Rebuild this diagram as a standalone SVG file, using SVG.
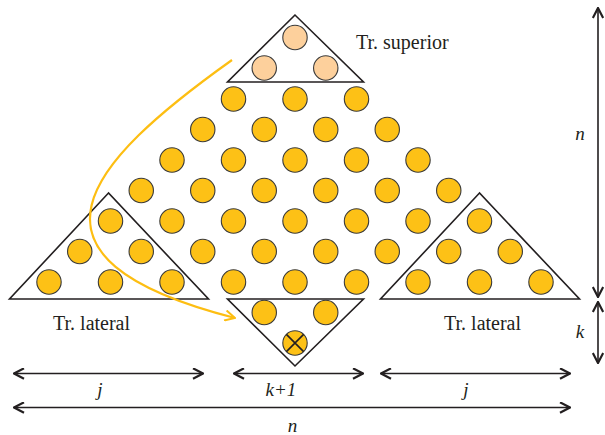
<svg xmlns="http://www.w3.org/2000/svg" width="605" height="435" viewBox="0 0 605 435">
<style>
.c{fill:#FDC116;stroke:#3a3a3a;stroke-width:1.1}
.p{fill:#FDD09C;stroke:#3a3a3a;stroke-width:1.1}
.tri{fill:none;stroke:#231f20;stroke-width:1.6;stroke-linejoin:miter}
.dim{fill:none;stroke:#231f20;stroke-width:1.6}
.curve{fill:none;stroke:#FDBE12;stroke-width:2.2}
.lbl{font-family:"Liberation Serif","Times New Roman",serif;font-size:20px;fill:#231f20}
.it{font-family:"Liberation Serif","Times New Roman",serif;font-style:italic;font-size:19px;fill:#231f20}
</style>
<defs>
<marker id="ah" viewBox="0 0 12 12" markerWidth="12" markerHeight="12" refX="11" refY="6" orient="auto-start-reverse" markerUnits="userSpaceOnUse">
<path d="M1,0.8 L11,6 L1,11.2" fill="none" stroke="#231f20" stroke-width="2.2"/>
</marker>
<marker id="ay" viewBox="0 0 12 12" markerWidth="12" markerHeight="12" refX="11" refY="6" orient="auto" markerUnits="userSpaceOnUse">
<path d="M1,0.8 L11,6 L1,11.2" fill="none" stroke="#FDBE12" stroke-width="2"/>
</marker>
</defs>

<g id="main-grid">
<circle class="c" cx="233.5" cy="99" r="12.2"/>
<circle class="c" cx="295" cy="99" r="12.2"/>
<circle class="c" cx="356.5" cy="99" r="12.2"/>
<circle class="c" cx="202.75" cy="129.5" r="12.2"/>
<circle class="c" cx="264.25" cy="129.5" r="12.2"/>
<circle class="c" cx="325.75" cy="129.5" r="12.2"/>
<circle class="c" cx="387.25" cy="129.5" r="12.2"/>
<circle class="c" cx="172" cy="160" r="12.2"/>
<circle class="c" cx="233.5" cy="160" r="12.2"/>
<circle class="c" cx="295" cy="160" r="12.2"/>
<circle class="c" cx="356.5" cy="160" r="12.2"/>
<circle class="c" cx="418" cy="160" r="12.2"/>
<circle class="c" cx="141.25" cy="190.5" r="12.2"/>
<circle class="c" cx="202.75" cy="190.5" r="12.2"/>
<circle class="c" cx="264.25" cy="190.5" r="12.2"/>
<circle class="c" cx="325.75" cy="190.5" r="12.2"/>
<circle class="c" cx="387.25" cy="190.5" r="12.2"/>
<circle class="c" cx="448.75" cy="190.5" r="12.2"/>
<circle class="c" cx="172" cy="221" r="12.2"/>
<circle class="c" cx="233.5" cy="221" r="12.2"/>
<circle class="c" cx="295" cy="221" r="12.2"/>
<circle class="c" cx="356.5" cy="221" r="12.2"/>
<circle class="c" cx="418" cy="221" r="12.2"/>
<circle class="c" cx="202.75" cy="251.5" r="12.2"/>
<circle class="c" cx="264.25" cy="251.5" r="12.2"/>
<circle class="c" cx="325.75" cy="251.5" r="12.2"/>
<circle class="c" cx="387.25" cy="251.5" r="12.2"/>
<circle class="c" cx="233.5" cy="282" r="12.2"/>
<circle class="c" cx="295" cy="282" r="12.2"/>
<circle class="c" cx="356.5" cy="282" r="12.2"/>
</g>

<g id="tr-superior">
<polygon class="tri" points="295,15 227.5,82 363.5,82"/>
<circle class="p" cx="295" cy="37.5" r="12.2"/>
<circle class="p" cx="264.25" cy="68" r="12.2"/>
<circle class="p" cx="325.75" cy="68" r="12.2"/>
<text class="lbl" x="356" y="49">Tr. superior</text>
</g>

<g id="tr-lateral-left">
<polygon class="tri" points="108.5,193 9.5,299 208.5,299"/>
<circle class="c" cx="110.5" cy="221" r="12.2"/>
<circle class="c" cx="79.75" cy="251.5" r="12.2"/>
<circle class="c" cx="141.25" cy="251.5" r="12.2"/>
<circle class="c" cx="49" cy="282" r="12.2"/>
<circle class="c" cx="110.5" cy="282" r="12.2"/>
<circle class="c" cx="172" cy="282" r="12.2"/>
<text class="lbl" x="53" y="330">Tr. lateral</text>
</g>

<g id="tr-lateral-right">
<polygon class="tri" points="479.5,193 380.5,299 579.5,299"/>
<circle class="c" cx="479.5" cy="221" r="12.2"/>
<circle class="c" cx="448.75" cy="251.5" r="12.2"/>
<circle class="c" cx="510.25" cy="251.5" r="12.2"/>
<circle class="c" cx="418" cy="282" r="12.2"/>
<circle class="c" cx="479.5" cy="282" r="12.2"/>
<circle class="c" cx="541" cy="282" r="12.2"/>
<text class="lbl" x="444" y="330">Tr. lateral</text>
</g>

<g id="tr-inferior">
<polygon class="tri" points="227.5,299 363.5,299 295,366"/>
<circle class="c" cx="264.25" cy="312.5" r="12.2"/>
<circle class="c" cx="325.75" cy="312.5" r="12.2"/>
<circle class="c" cx="295" cy="343" r="12.2"/>
<path d="M286.4,334.4 L303.6,351.6 M303.6,334.4 L286.4,351.6" stroke="#231f20" stroke-width="1.6" fill="none"/>
</g>

<g id="connectors">
<path class="curve" d="M232,60 C87.5,163 1.2,258 235,318" marker-end="url(#ay)"/>
<line class="dim" x1="14" y1="373.5" x2="203" y2="373.5" marker-start="url(#ah)" marker-end="url(#ah)"/>
<line class="dim" x1="234" y1="373.5" x2="363" y2="373.5" marker-start="url(#ah)" marker-end="url(#ah)"/>
<line class="dim" x1="381" y1="373.5" x2="570" y2="373.5" marker-start="url(#ah)" marker-end="url(#ah)"/>
<line class="dim" x1="14" y1="407.5" x2="570" y2="407.5" marker-start="url(#ah)" marker-end="url(#ah)"/>
<line class="dim" x1="598" y1="8" x2="598" y2="297" marker-start="url(#ah)" marker-end="url(#ah)"/>
<line class="dim" x1="598" y1="302" x2="598" y2="363" marker-start="url(#ah)" marker-end="url(#ah)"/>
</g>

<g id="labels">
<text class="it" x="100" y="396" text-anchor="middle">j</text>
<text class="it" x="281" y="396" text-anchor="middle">k+1</text>
<text class="it" x="466" y="396" text-anchor="middle">j</text>
<text class="it" x="292.5" y="432" text-anchor="middle">n</text>
<text class="it" x="580" y="140" text-anchor="middle">n</text>
<text class="it" x="580" y="338" text-anchor="middle">k</text>
</g>
</svg>
